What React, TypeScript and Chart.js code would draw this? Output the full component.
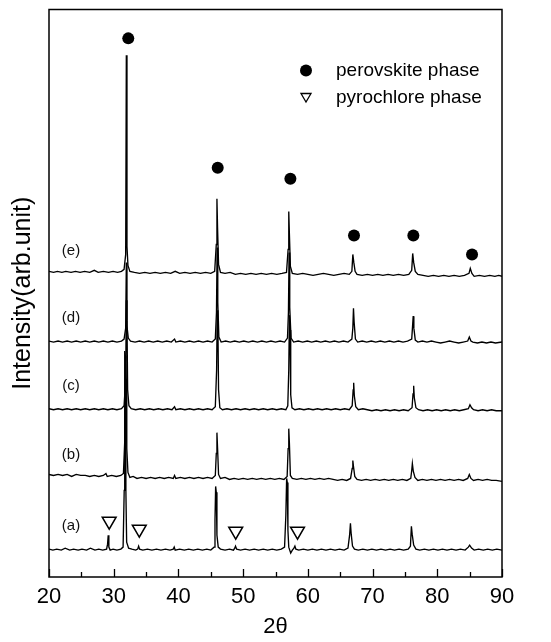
import React, { useEffect, useRef } from 'react';
import { Chart, registerables } from 'chart.js';

Chart.register(...registerables);

const FONT = '"Liberation Sans", Arial, Helvetica, sans-serif';

// x axis (2θ)
const xMin = 20;
const xMax = 90;
const xMajorStep = 10;
const xMinorStep = 5;

// sample labels and vertical offsets of the stacked patterns
const sampleLabels = ['(a)', '(b)', '(c)', '(d)', '(e)'];
const sampleOffsets = [27, 99, 168, 236, 304];

// [2θ, intensity above own baseline]
const traceA: [number, number][] = [
  [20, 1], [20.6, 0], [21.2, 1], [21.9, 0], [22.5, 2], [23.2, 0], [23.8, 1], [24.5, 0], [25.1, 1], [25.8, 0],
  [26.4, 2], [27.1, 0], [27.7, 1], [28.3, 0], [28.9, 1], [29.05, 6], [29.15, 15], [29.25, 3], [29.45, 0], [29.9, 1],
  [30.5, 0], [31.1, 1], [31.45, 3], [31.62, 60], [31.7, 200], [31.8, 195], [31.88, 60], [32.0, 8], [32.3, 2], [32.8, 1],
  [33.4, 0], [33.7, 1], [33.85, 4], [34.0, 1], [34.5, 0], [35.2, 1], [35.9, 0], [36.6, 1], [37.3, 0], [38, 1],
  [38.7, 0], [39.2, 1], [39.35, 3], [39.5, 0], [40.2, 1], [40.9, 0], [41.6, 1], [42.3, 0], [43, 1], [43.7, 0],
  [44.4, 1], [45, 0], [45.5, 3], [45.65, 30], [45.75, 64], [45.85, 58], [45.95, 15], [46.15, 3], [46.5, 1], [47.2, 0],
  [47.9, 1], [48.5, 0], [48.7, 2], [48.82, 4], [49.0, 1], [49.6, 0], [50.3, 1], [51, 0], [51.7, 1], [52.4, 0],
  [53.1, 1], [53.8, 0], [54.5, 1], [55.2, 0], [55.9, 1], [56.4, 3], [56.6, 35], [56.72, 72], [56.82, 68], [56.92, 20],
  [57.05, 3], [57.35, -3], [57.6, 0], [57.85, 2], [58.0, 4], [58.15, 1], [58.6, 0], [59.3, 1], [60, 0], [60.7, 1],
  [61.4, 0], [62.1, 1], [62.8, 0], [63.5, 1], [64.2, 0], [64.9, 1], [65.6, 0], [66.2, 2], [66.45, 15], [66.58, 27],
  [66.7, 16], [66.9, 4], [67.2, 1], [67.8, 0], [68.5, 1], [69.2, 0], [69.9, 1], [70.6, 0], [71.3, 1], [72, 0],
  [72.7, 1], [73.4, 0], [74.1, 1], [74.8, 0], [75.5, 1], [75.85, 4], [76.0, 24], [76.12, 16], [76.35, 5], [76.7, 1],
  [77.3, 0], [78, 1], [78.7, 0], [79.4, 1], [80.1, 0], [80.8, 1], [81.5, 0], [82.2, 1], [82.9, 0], [83.6, 1],
  [84.3, 0], [84.8, 3], [85.0, 5], [85.3, 2], [85.7, 0], [86.4, 1], [87.1, 0], [87.8, 1], [88.5, 0], [89.2, 1], [90, 0],
];

const traceB: [number, number][] = [
  [20, 4], [20.7, 3], [21.4, 4], [22.1, 3], [22.8, 4], [23.5, 2], [24.2, 4], [24.9, 3], [25.6, 3], [26.3, 2],
  [27, 3], [27.7, 2], [28.4, 3], [28.8, 5], [29.0, 2], [29.7, 3], [30.4, 2], [31.1, 3], [31.5, 5], [31.72, 40],
  [31.82, 115], [31.92, 100], [32.02, 30], [32.2, 6], [32.5, 1], [33, 2], [33.6, 0], [34.3, 1], [35, 0], [35.7, 1],
  [36.4, 0], [37.1, 1], [37.8, 0], [38.5, 1], [39.2, 0], [39.4, 3], [39.6, 0], [40.3, 1], [41, 0], [41.7, 1],
  [42.4, 0], [43.1, 1], [43.8, 0], [44.5, 1], [45.2, 0], [45.7, 3], [45.85, 25], [45.95, 46], [46.05, 30], [46.2, 4],
  [46.5, 0], [47.2, 1], [47.9, -1], [48.6, 0], [49.3, -1], [50, 0], [50.7, -1], [51.4, 0], [52.1, -1], [52.8, 0],
  [53.5, -1], [54.2, 0], [54.9, -1], [55.6, 0], [56.3, -1], [56.8, 2], [56.95, 30], [57.05, 50], [57.15, 35], [57.3, 3],
  [57.6, 0], [58.3, -1], [59, 0], [59.7, -1], [60.4, 0], [61.1, -1], [61.8, 0], [62.5, -1], [63.2, 0], [63.9, -1],
  [64.6, -2], [65.3, -1], [66, -2], [66.6, 0], [66.85, 10], [66.95, 18], [67.05, 12], [67.25, 2], [67.6, -1], [68.3, -2],
  [69, -1], [69.7, -2], [70.4, -1], [71.1, -2], [71.8, -1], [72.5, -2], [73.2, -1], [73.9, -2], [74.6, -1], [75.3, -2],
  [75.9, 0], [76.05, 8], [76.15, 15], [76.3, 7], [76.55, 1], [77, -2], [77.7, -1], [78.4, -2], [79.1, -1], [79.8, -2],
  [80.5, -1], [81.2, -2], [81.9, -1], [82.6, -2], [83.3, -1], [84, -2], [84.7, 0], [84.95, 4], [85.2, 0], [85.6, -2],
  [86.3, -1], [87, -2], [87.7, -1], [88.4, -2], [89.1, -2], [90, -3],
];

const traceC: [number, number][] = [
  [20, 1], [20.7, 0], [21.4, 1], [22.1, 0], [22.8, 1], [23.5, 0], [24.2, 1], [24.9, 0], [25.6, 1], [26.3, 0],
  [27, 1], [27.7, 0], [28.4, 1], [29.1, 0], [29.8, 1], [30.5, 0], [31.2, 1], [31.6, 4], [31.85, 30], [31.95, 110],
  [32.05, 90], [32.15, 20], [32.35, 4], [32.7, 1], [33.4, 0], [34.1, 1], [34.8, 0], [35.5, 1], [36.2, 0], [36.9, 1],
  [37.6, 0], [38.3, 1], [39, 0], [39.4, 3], [39.6, 0], [40.3, 1], [41, 0], [41.7, 1], [42.4, 0], [43.1, 1],
  [43.8, 0], [44.5, 1], [45.2, 0], [45.7, 3], [45.9, 40], [46.0, 100], [46.1, 85], [46.2, 20], [46.4, 2], [46.8, 0],
  [47.5, 1], [48.2, 0], [48.9, 1], [49.6, 0], [50.3, 1], [51, 0], [51.7, 1], [52.4, 0], [53.1, 1], [53.8, 0],
  [54.5, 1], [55.2, 0], [55.9, 1], [56.6, 0], [56.9, 4], [57.05, 40], [57.15, 95], [57.25, 80], [57.35, 15], [57.55, 2],
  [58, 0], [58.7, 1], [59.4, 0], [60.1, 1], [60.8, 0], [61.5, 1], [62.2, 0], [62.9, 1], [63.6, 0], [64.3, 1],
  [65, 0], [65.7, 1], [66.4, 0], [66.85, 4], [67.0, 20], [67.08, 27], [67.18, 14], [67.4, 3], [67.8, 0], [68.5, 1],
  [69.2, 0], [69.9, -1], [70.6, 0], [71.3, -1], [72, 0], [72.7, -1], [73.4, 0], [74.1, -1], [74.8, 0], [75.5, -1],
  [76.1, 2], [76.25, 16], [76.35, 24], [76.45, 12], [76.7, 2], [77.1, 0], [77.8, -1], [78.5, 0], [79.2, -1], [79.9, 0],
  [80.6, -1], [81.3, 0], [82, -1], [82.7, 0], [83.4, -1], [84.1, 0], [84.8, 1], [85.05, 5], [85.3, 2], [85.6, 0],
  [86.3, -1], [87, 0], [87.7, -1], [88.4, 0], [89.1, -1], [90, -1],
];

const traceD: [number, number][] = [
  [20, 1], [20.7, 0], [21.4, 1], [22.1, 0], [22.8, 1], [23.5, 0], [24.2, 1], [24.9, 0], [25.6, 1], [26.3, 0],
  [27, 1], [27.7, 0], [28.4, 1], [29.1, 0], [29.8, 1], [30.5, 0], [31.2, 1], [31.6, 3], [31.85, 14], [31.95, 80],
  [32.05, 16], [32.25, 4], [32.6, 1], [33.3, 0], [34, 1], [34.7, 0], [35.4, 1], [36.1, 0], [36.8, 1], [37.5, 0],
  [38.2, 1], [38.9, 0], [39.4, 3], [39.6, 0], [40.3, 1], [41, 0], [41.7, 1], [42.4, 0], [43.1, 1], [43.8, 0],
  [44.5, 1], [45.2, 0], [45.7, 3], [45.88, 30], [45.98, 95], [46.08, 40], [46.25, 5], [46.6, 0], [47.3, 1], [48, 0],
  [48.7, 1], [49.4, 0], [50.1, 1], [50.8, 0], [51.5, 1], [52.2, 0], [52.9, 1], [53.6, 0], [54.3, 1], [55, 0],
  [55.7, 1], [56.4, 0], [56.85, 4], [57.0, 30], [57.1, 90], [57.2, 35], [57.4, 4], [57.8, 0], [58.5, 1], [59.2, 0],
  [59.9, 1], [60.6, 0], [61.3, 1], [62, 0], [62.7, 1], [63.4, 0], [64.1, 1], [64.8, 0], [65.5, 1], [66.2, 0],
  [66.8, 3], [66.95, 14], [67.05, 34], [67.15, 20], [67.35, 3], [67.7, 0], [68.4, 1], [69.1, 0], [69.8, 1], [70.5, 0],
  [71.2, 1], [71.9, 0], [72.6, 1], [73.3, 0], [74, 1], [74.7, 0], [75.4, 1], [76.05, 3], [76.2, 18], [76.28, 26],
  [76.38, 14], [76.6, 2], [77, 0], [77.7, 1], [78.4, 0], [79.1, 1], [79.8, 0], [80.5, -1], [81.2, 0], [81.9, 1],
  [82.6, 0], [83.3, -1], [84, 0], [84.7, 1], [84.95, 5], [85.2, 1], [85.5, 0], [86.2, -1], [86.9, 0], [87.6, -1],
  [88.3, 0], [89, -1], [90, 0],
];

const traceE: [number, number][] = [
  [20, 3], [20.7, 2], [21.3, 3], [22, 2], [22.6, 3], [23.4, 2], [24.1, 3], [24.8, 2], [25.5, 3], [26.3, 2],
  [27, 4], [27.6, 2], [28.4, 3], [29.2, 2], [29.9, 3], [30.6, 2], [31.2, 3], [31.6, 5], [31.85, 20], [31.95, 220],
  [32.05, 28], [32.2, 9], [32.5, 3], [33.2, 2], [34, 1], [34.8, 2], [35.6, 1], [36.4, 2], [37.2, 1], [38, 2],
  [38.8, 1], [39.5, 3], [40.2, 1], [41, 2], [41.8, 1], [42.6, 2], [43.4, 1], [44.2, 2], [45, 1], [45.6, 3],
  [45.85, 30], [45.95, 76], [46.05, 46], [46.2, 10], [46.5, 2], [47.2, 1], [48, 2], [48.8, 0], [49.6, 1], [50.4, 0],
  [51.2, 1], [52, 0], [52.8, 1], [53.6, 0], [54.4, 1], [55.2, 0], [56, 1], [56.7, 2], [56.95, 25], [57.05, 63],
  [57.15, 40], [57.3, 8], [57.6, 1], [58.4, 0], [59.2, 1], [60, 0], [60.8, -1], [61.6, 0], [62.4, 1], [63.2, 0],
  [64, -1], [64.8, 0], [65.6, 1], [66.4, 0], [66.8, 3], [66.95, 20], [67.1, 12], [67.3, 3], [67.6, 0], [68.4, -1],
  [69.2, 0], [70, -1], [70.8, 0], [71.6, -1], [72.4, 0], [73.2, -1], [74, 0], [74.8, -1], [75.6, 0], [76.05, 4],
  [76.2, 21], [76.35, 12], [76.6, 3], [77, 0], [77.8, -1], [78.6, -2], [79.4, -1], [80.2, -2], [81, -1], [81.8, -2],
  [82.6, -1], [83.4, -2], [84.2, -1], [84.9, 1], [85.1, 6], [85.35, 1], [85.7, -2], [86.5, -1], [87.3, -2], [88.1, -1],
  [88.9, -2], [89.5, -1], [90, -2],
];

// phase markers
const perovskiteX = [32.25, 46.07, 57.3, 67.13, 76.3, 85.37];
const perovskiteY = [541, 411, 400, 343, 343, 324];
const pyrochloreX = [29.3, 33.95, 48.85, 58.4];
const pyrochloreY = [56, 48, 46, 46];

const legendLabels = ['perovskite phase', 'pyrochlore phase'];
const xTitle = '2θ';
const yTitle = 'Intensity(arb.unit)';

const overlayPlugin = {
  id: 'overlay',
  afterDatasetsDraw(chart: any) {
    const { ctx, chartArea, scales } = chart;
    const xs = scales.x;
    const ys = scales.y;
    ctx.save();
    // sample labels
    ctx.fillStyle = '#111';
    ctx.font = `15px ${FONT}`;
    ctx.textAlign = 'center';
    ctx.textBaseline = 'middle';
    sampleLabels.forEach((lab, i) => {
      ctx.fillText(lab, xs.getPixelForValue(23.4), ys.getPixelForValue(sampleOffsets[i] + 24));
    });
    // legend
    const lx = chartArea.left + 257;
    const ly1 = chartArea.top + 61;
    const ly2 = chartArea.top + 88;
    ctx.fillStyle = '#000';
    ctx.beginPath();
    ctx.arc(lx, ly1, 6, 0, Math.PI * 2);
    ctx.fill();
    ctx.strokeStyle = '#000';
    ctx.lineWidth = 1.3;
    ctx.beginPath();
    ctx.moveTo(lx - 5, ly2 - 4);
    ctx.lineTo(lx + 5, ly2 - 4);
    ctx.lineTo(lx, ly2 + 4.5);
    ctx.closePath();
    ctx.stroke();
    ctx.font = `19px ${FONT}`;
    ctx.textAlign = 'left';
    ctx.fillText(legendLabels[0], chartArea.left + 287, ly1);
    ctx.fillText(legendLabels[1], chartArea.left + 287, ly2);
    ctx.restore();
  },
  afterDraw(chart: any) {
    const { ctx, chartArea, scales } = chart;
    const xs = scales.x;
    ctx.save();
    ctx.strokeStyle = '#000';
    // inward ticks on the bottom axis
    ctx.lineWidth = 1.3;
    ctx.beginPath();
    for (let v = xMin; v <= xMax + 1e-9; v += xMinorStep) {
      const px = Math.round(xs.getPixelForValue(v)) + 0.5;
      const isMajor = Math.abs((v - xMin) % xMajorStep) < 1e-9;
      const len = isMajor ? 8 : 5;
      ctx.moveTo(px, chartArea.bottom);
      ctx.lineTo(px, chartArea.bottom - len);
    }
    ctx.stroke();
    // frame
    ctx.lineWidth = 1.5;
    ctx.strokeRect(chartArea.left, chartArea.top, chartArea.right - chartArea.left, chartArea.bottom - chartArea.top);
    ctx.restore();
  },
};

export default function App() {
  const ref = useRef<HTMLCanvasElement>(null);

  useEffect(() => {
    const canvas = ref.current;
    if (!canvas) return;
    const traces = [traceA, traceB, traceC, traceD, traceE];
    const lineSets: any[] = traces.map((tr, i) => ({
      type: 'line',
      label: sampleLabels[i],
      data: tr.map(([x, y]) => ({ x, y: y + sampleOffsets[i] })),
      borderColor: '#000',
      borderWidth: 1.35,
      pointRadius: 0,
      tension: 0,
      fill: false,
    }));
    const markerSets: any[] = [
      {
        type: 'scatter',
        label: legendLabels[0],
        data: perovskiteX.map((x, i) => ({ x, y: perovskiteY[i] })),
        pointStyle: 'circle',
        pointRadius: 6,
        backgroundColor: '#000',
        borderColor: '#000',
        borderWidth: 0,
        showLine: false,
      },
      {
        type: 'scatter',
        label: legendLabels[1],
        data: pyrochloreX.map((x, i) => ({ x, y: pyrochloreY[i] })),
        pointStyle: 'triangle',
        rotation: 180,
        pointRadius: 8,
        backgroundColor: 'rgba(255,255,255,0)',
        borderColor: '#000',
        borderWidth: 1.5,
        showLine: false,
      },
    ];

    const chart = new Chart(canvas, {
      type: 'line',
      data: { datasets: [...lineSets, ...markerSets] },
      options: {
        responsive: false,
        animation: false,
        devicePixelRatio: 1,
        events: [],
        layout: { padding: { top: 7, right: 49, left: 0, bottom: 0 } },
        plugins: { legend: { display: false }, tooltip: { enabled: false } },
        scales: {
          x: {
            type: 'linear',
            position: 'bottom',
            min: xMin,
            max: xMax,
            ticks: {
              stepSize: xMajorStep,
              padding: 7,
              color: '#000',
              font: { family: FONT, size: 22 },
              maxRotation: 0,
              autoSkip: false,
            },
            grid: { display: false, drawTicks: false, tickLength: 0 },
            border: { display: false },
            title: {
              display: true,
              text: xTitle,
              color: '#000',
              font: { family: FONT, size: 22 },
              padding: { top: 0, bottom: 2 },
            },
            afterFit: (s: any) => {
              s.height = 65;
            },
          },
          y: {
            type: 'linear',
            min: 0,
            max: 570,
            ticks: { display: false },
            grid: { display: false, drawTicks: false },
            border: { display: false },
            title: {
              display: true,
              text: yTitle,
              color: '#000',
              font: { family: FONT, size: 25 },
              padding: { top: 8, bottom: 0 },
            },
            afterFit: (s: any) => {
              s.width = 49;
            },
          },
        },
      } as any,
      plugins: [overlayPlugin],
    } as any);

    return () => chart.destroy();
  }, []);

  return (
    <div style={{ position: 'absolute', left: 0, top: 0, width: 551, height: 642, background: '#fff' }}>
      <canvas ref={ref} width={551} height={642} style={{ display: 'block' }} />
    </div>
  );
}
